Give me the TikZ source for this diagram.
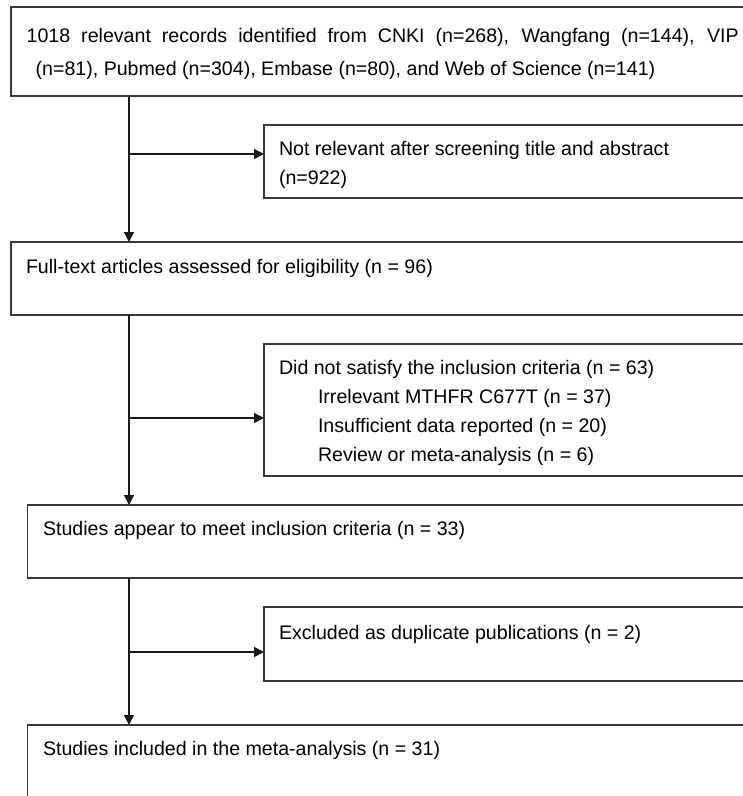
\documentclass[tikz,border=0pt]{standalone}
\usepackage{fontspec}
\setmainfont{Liberation Sans}
\usetikzlibrary{arrows.meta}
\begin{document}
\begin{tikzpicture}[x=1pt,y=-1pt,
  box/.style={draw=black!78,line width=1.6pt,rectangle,anchor=north west,inner sep=0pt,outer sep=0pt},
  txt/.style={anchor=base west,inner sep=0pt,outer sep=0pt,font=\fontsize{19.6}{29}\selectfont},
  arr/.style={draw=black!90,line width=1.3pt,-{Triangle[length=10pt,width=10pt]}},
  ln/.style={draw=black!90,line width=1.3pt}]
\useasboundingbox (0,0) rectangle (743,796);
\clip (0,0) rectangle (743,796);
% boxes
\node[box,minimum width=780pt,minimum height=89pt] (b1) at (11,7) {};
\node[box,minimum width=520pt,minimum height=73pt] (b2) at (264,125) {};
\node[box,minimum width=780pt,minimum height=73pt] (b3) at (11,242) {};
\node[box,minimum width=520pt,minimum height=132pt] (b4) at (264,344) {};
\node[box,minimum width=760pt,minimum height=73pt] (b5) at (27.5,505) {};
\node[box,minimum width=520pt,minimum height=74pt] (b6) at (264,607) {};
\node[box,minimum width=760pt,minimum height=120pt] (b7) at (27.5,725) {};
% texts
\node[txt] (t1a) at (26.7,42.7) {\makebox[712pt][s]{1018 relevant records identified from CNKI (n=268), Wangfang (n=144), VIP}};
\node[txt] (t1b) at (35.7,75) {(n=81), Pubmed (n=304), Embase (n=80), and Web of Science (n=141)};
\node[txt] (t2a) at (279,155) {Not relevant after screening title and abstract};
\node[txt] (t2b) at (279,184) {(n=922)};
\node[txt] (t3) at (26,273) {Full-text articles assessed for eligibility (n = 96)};
\node[txt] (t4a) at (279,374) {Did not satisfy the inclusion criteria (n = 63)};
\node[txt] (t4b) at (318,403) {Irrelevant MTHFR C677T (n = 37)};
\node[txt] (t4c) at (318,432) {Insufficient data reported (n = 20)};
\node[txt] (t4d) at (318,461) {Review or meta-analysis (n = 6)};
\node[txt] (t5) at (43,535) {Studies appear to meet inclusion criteria (n = 33)};
\node[txt] (t6) at (279,639) {Excluded as duplicate publications (n = 2)};
\node[txt] (t7) at (43,755) {Studies included in the meta-analysis (n = 31)};
% connectors
\coordinate (sp) at (129,0);
\coordinate (j1) at (129,154);
\coordinate (j2) at (129,418);
\coordinate (j3) at (129,652);
\draw[arr] (b1.south -| sp) -- (b3.north -| sp);
\draw[arr] (j1) -- (j1 -| b2.west);
\draw[arr] (b3.south -| sp) -- (b5.north -| sp);
\draw[arr] (j2) -- (j2 -| b4.west);
\draw[arr] (b5.south -| sp) -- (b7.north -| sp);
\draw[arr] (j3) -- (j3 -| b6.west);
\end{tikzpicture}
\end{document}
